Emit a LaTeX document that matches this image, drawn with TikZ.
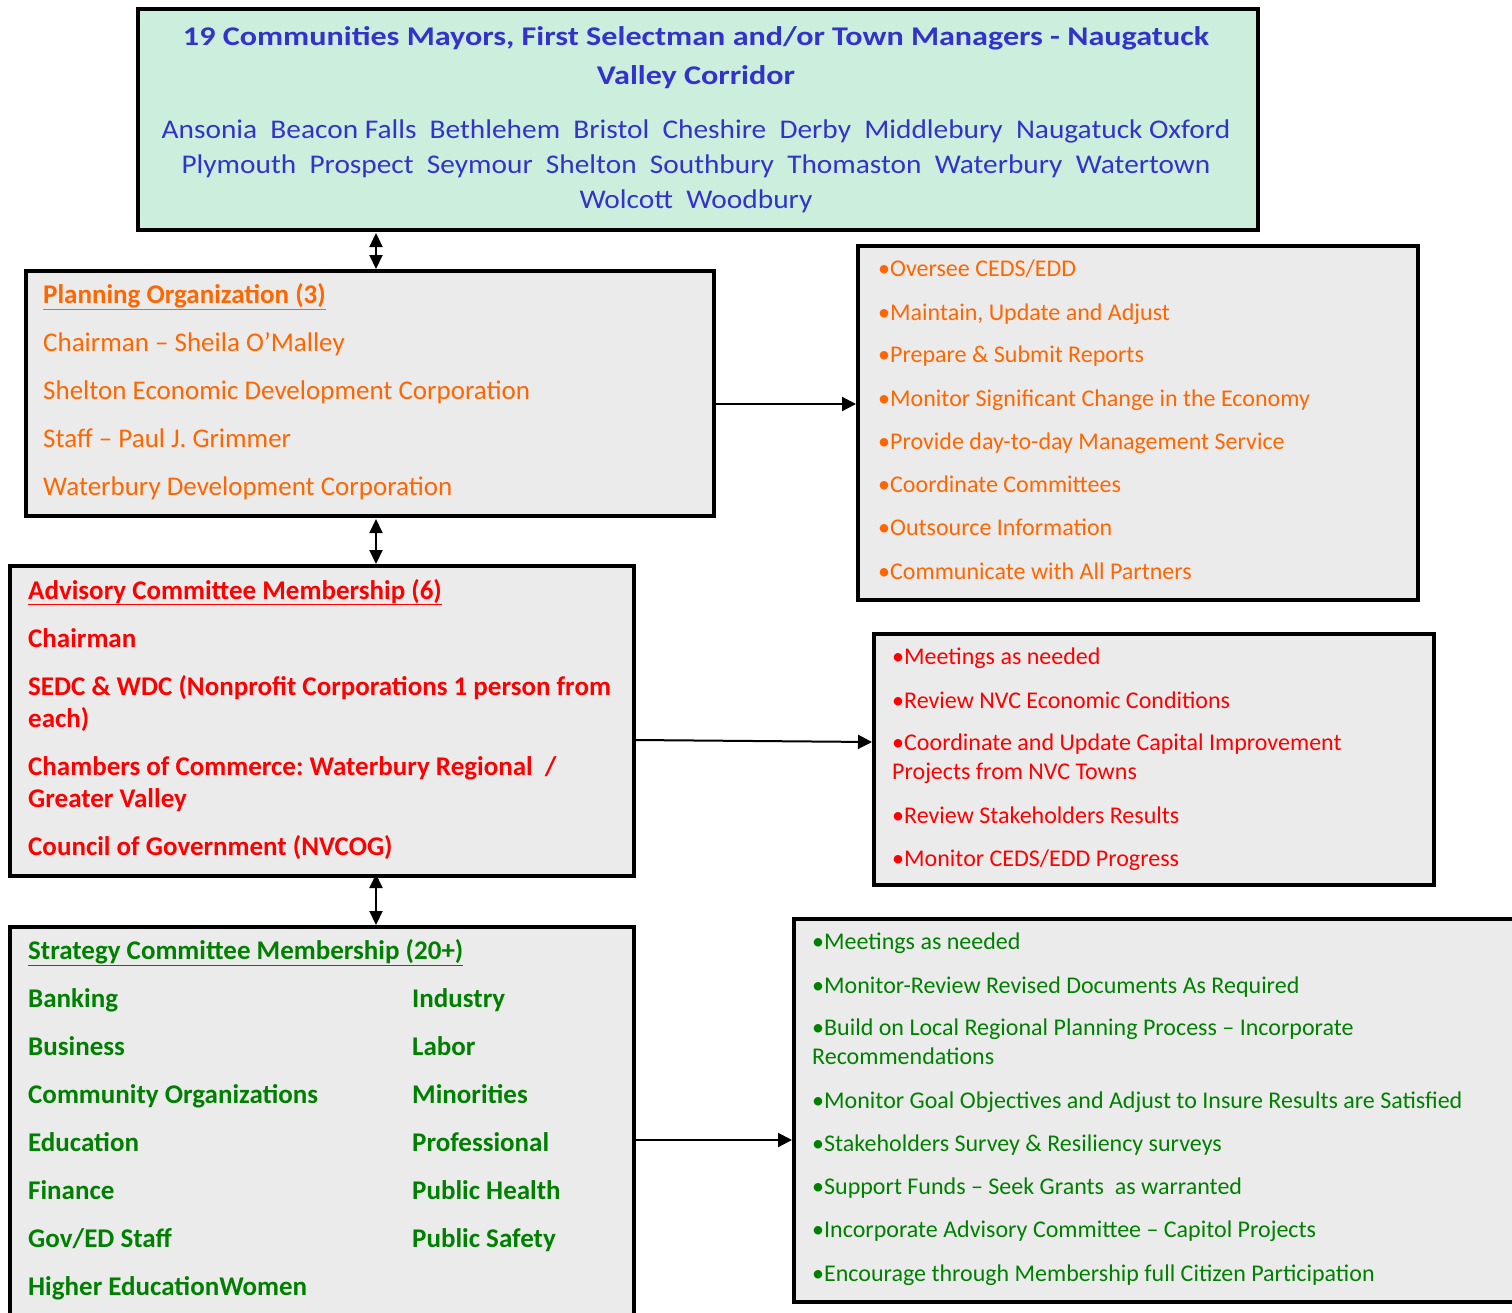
\documentclass[tikz,border=0pt]{standalone}
\usepackage{fontspec}
\usepackage{graphicx}
\setmainfont{Carlito}
\usetikzlibrary{arrows.meta}
\definecolor{tblue}{RGB}{51,51,204}
\definecolor{torange}{RGB}{255,102,0}
\definecolor{tred}{RGB}{255,0,0}
\definecolor{tgreen}{RGB}{0,128,0}
\definecolor{boxgray}{RGB}{235,235,235}
\definecolor{mint}{RGB}{204,238,221}
\frenchspacing
\begin{document}
\begin{tikzpicture}[x=1pt,y=-1pt,
  box/.style={draw=black, line width=4pt, fill=boxgray, anchor=north west, inner sep=0pt},
  txt/.style={anchor=base west, inner sep=0pt, font=\fontsize{27}{31}\selectfont},
  btxt/.style={txt, font=\fontsize{27}{31}\selectfont\bfseries},
  ltxt/.style={anchor=base west, inner sep=0pt, font=\fontsize{24}{28}\selectfont},
  ctxt/.style={anchor=base, inner sep=0pt, font=\fontsize{27}{31}\selectfont, text=tblue},
  conn/.style={line width=2pt, -{Triangle[length=14pt,width=14pt]}},
  dconn/.style={line width=2pt, {Triangle[length=14pt,width=13pt]}-{Triangle[length=14pt,width=13pt]}}
]
\useasboundingbox (0,0) rectangle (1512,1312);
\clip (0,0) rectangle (1512,1312);
\fill[white] (0,0) rectangle (1512,1312);

% boxes
\node[box, fill=mint, minimum width=1120pt, minimum height=221pt] (top) at (136,7) {};
\node[box, minimum width=688pt, minimum height=245pt] (plan) at (24,269) {};
\node[box, minimum width=560pt, minimum height=354pt] (olist) at (856,244) {};
\node[box, minimum width=624pt, minimum height=310pt] (adv) at (8,564) {};
\node[box, minimum width=560pt, minimum height=251pt] (rlist) at (872,632) {};
\node[box, minimum width=624pt, minimum height=420pt] (strat) at (8,925) {};
\node[box, minimum width=760pt, minimum height=383pt] (glist) at (792,917) {};

% top box text
\node[ctxt, font=\fontsize{27}{31}\selectfont\bfseries] (t1) at (696,45) {\scalebox{1.19}[1]{19 Communities Mayors, First Selectman and/or Town Managers - Naugatuck}};
\node[ctxt, font=\fontsize{27}{31}\selectfont\bfseries] (t2) at (696,84) {\scalebox{1.19}[1]{Valley Corridor}};
\node[ctxt] (t3) at (696,138) {\scalebox{1.087}[1]{Ansonia\ \ Beacon Falls\ \ Bethlehem\ \ Bristol\ \ Cheshire\ \ Derby\ \ Middlebury\ \ Naugatuck Oxford}};
\node[ctxt] (t4) at (696,173) {\scalebox{1.087}[1]{Plymouth\ \ Prospect\ \ Seymour\ \ Shelton\ \ Southbury\ \ Thomaston\ \ Waterbury\ \ Watertown}};
\node[ctxt] (t5) at (696,208) {\scalebox{1.09}[1]{Wolcott\ \ Woodbury}};

% planning
\begin{scope}[every node/.append style={text=torange}]
\node[btxt] (p0) at (43,303) {\underline{Planning Organization (3)}};
\node[txt] (p1) at (43,351) {Chairman – Sheila O’Malley};
\node[txt] (p2) at (43,399) {Shelton Economic Development Corporation};
\node[txt] (p3) at (43,447) {Staff – Paul J. Grimmer};
\node[txt] (p4) at (43,495) {Waterbury Development Corporation};
% orange list
\node[ltxt] (o1) at (878,276) {•Oversee CEDS/EDD};
\node[ltxt] (o2) at (878,320) {•Maintain, Update and Adjust};
\node[ltxt] (o3) at (878,362) {•Prepare \& Submit Reports};
\node[ltxt] (o4) at (878,406) {•Monitor Significant Change in the Economy};
\node[ltxt] (o5) at (878,449) {•Provide day-to-day Management Service};
\node[ltxt] (o6) at (878,492) {•Coordinate Committees};
\node[ltxt] (o7) at (878,535) {•Outsource Information};
\node[ltxt] (o8) at (878,579) {•Communicate with All Partners};
\end{scope}

% advisory
\begin{scope}[every node/.append style={text=tred}]
\node[btxt] (a0) at (28,599) {\underline{Advisory Committee Membership (6)}};
\node[btxt] (a1) at (28,647) {Chairman};
\node[btxt] (a2) at (28,695) {SEDC \& WDC (Nonprofit Corporations 1 person from};
\node[btxt] (a3) at (28,727) {each)};
\node[btxt] (a4) at (28,775) {Chambers of Commerce: Waterbury Regional\ \ /};
\node[btxt] (a5) at (28,807) {Greater Valley};
\node[btxt] (a6) at (28,855) {Council of Government (NVCOG)};
% red list
\node[ltxt] (r1) at (892,664) {•Meetings as needed};
\node[ltxt] (r2) at (892,708) {•Review NVC Economic Conditions};
\node[ltxt] (r3) at (892,750) {•Coordinate and Update Capital Improvement};
\node[ltxt] (r4) at (892,779) {Projects from NVC Towns};
\node[ltxt] (r5) at (892,823) {•Review Stakeholders Results};
\node[ltxt] (r6) at (892,866) {•Monitor CEDS/EDD Progress};
\end{scope}

% strategy
\begin{scope}[every node/.append style={text=tgreen}]
\node[btxt] (s0) at (28,959) {\underline{Strategy Committee Membership (20+)}};
\node[btxt] (s1) at (28,1007) {Banking};
\node[btxt] (s2) at (28,1055) {Business};
\node[btxt] (s3) at (28,1103) {Community Organizations};
\node[btxt] (s4) at (28,1151) {Education};
\node[btxt] (s5) at (28,1199) {Finance};
\node[btxt] (s6) at (28,1247) {Gov/ED Staff};
\node[btxt] (s7) at (28,1295) {Higher EducationWomen};
\node[btxt] (s8) at (412,1007) {Industry};
\node[btxt] (s9) at (412,1055) {Labor};
\node[btxt] (s10) at (412,1103) {Minorities};
\node[btxt] (s11) at (412,1151) {Professional};
\node[btxt] (s12) at (412,1199) {Public Health};
\node[btxt] (s13) at (412,1247) {Public Safety};
% green list
\node[ltxt] (g1) at (812,949) {•Meetings as needed};
\node[ltxt] (g2) at (812,993) {•Monitor-Review Revised Documents As Required};
\node[ltxt] (g3) at (812,1035) {•Build on Local Regional Planning Process – Incorporate};
\node[ltxt] (g4) at (812,1064) {Recommendations};
\node[ltxt] (g5) at (812,1108) {•Monitor Goal Objectives and Adjust to Insure Results are Satisfied};
\node[ltxt] (g6) at (812,1151) {•Stakeholders Survey \& Resiliency surveys};
\node[ltxt] (g7) at (812,1194) {•Support Funds – Seek Grants\ \ as warranted};
\node[ltxt] (g8) at (812,1237) {•Incorporate Advisory Committee – Capitol Projects};
\node[ltxt] (g9) at (812,1281) {•Encourage through Membership full Citizen Participation};
\end{scope}

% connectors
\draw[dconn] (376,0 |- top.south) ++(0,1) -- (376,0 |- plan.north);
\draw[dconn] (376,0 |- plan.south) ++(0,1) -- (376,0 |- adv.north);
\draw[dconn] (376,0 |- adv.south) ++(0,-4) -- (376,0 |- strat.north);
\draw[conn] (plan.east |- 0,404) -- (olist.west |- 0,404);
\draw[conn] (adv.east |- 0,740) -- (rlist.west |- 0,742);
\draw[conn] (strat.east |- 0,1140) -- (glist.west |- 0,1140);
\end{tikzpicture}
\end{document}
